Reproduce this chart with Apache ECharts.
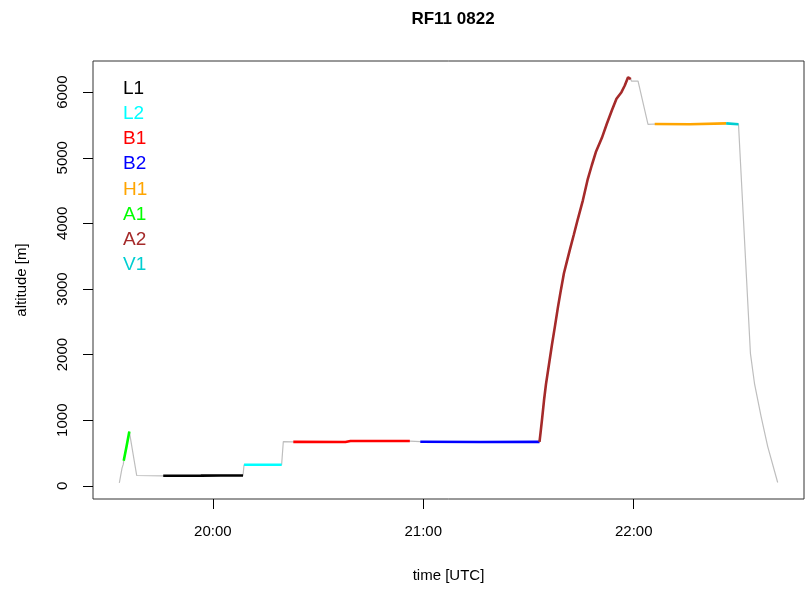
<!DOCTYPE html>
<html>
<head>
<meta charset="utf-8">
<title>RF11 0822</title>
<script src="https://cdn.jsdelivr.net/npm/echarts@6/dist/echarts.min.js"></script>
<style>
  html, body { margin: 0; padding: 0; background: #fff; }
  #chart { width: 812px; height: 589px; }
</style>
</head>
<body>
<div id="chart"></div>
<script>
// Flight track of RF11 (UTC time, altitude in metres)
const trackTime = [
  "19:33:21", "19:34:07", "19:34:29", "19:34:36", "19:35:24", "19:36:12",
  "19:38:18", "19:45:52", "19:56:35", "20:02:16", "20:08:37",
  "20:08:54", "20:19:37", "20:20:06",
  "20:22:57", "20:37:49", "20:39:15", "20:56:10",
  "20:59:09", "21:16:13", "21:33:08",
  "21:33:25", "21:33:50", "21:34:25", "21:34:59", "21:35:50", "21:36:41",
  "21:37:32", "21:38:23", "21:39:15", "21:40:06", "21:40:57", "21:41:48",
  "21:42:56", "21:44:05", "21:45:30", "21:46:55", "21:48:04", "21:49:12",
  "21:49:34", "21:50:54", "21:52:20", "21:53:45", "21:55:05", "21:56:30",
  "21:57:27", "21:58:23", "21:59:09",
  "21:59:21", "22:01:14", "22:04:04",
  "22:05:59", "22:15:56", "22:26:22", "22:29:52",
  "22:33:16", "22:34:25", "22:36:19", "22:38:12", "22:41:02"
];
const trackAlt = [
  46, 270, 330, 380, 600, 826,
  157, 152, 155, 158, 157,
  320, 320, 674,
  670, 668, 683, 682,
  672, 668, 670,
  800, 1000, 1300, 1550, 1850, 2150,
  2430, 2720, 2990, 3240, 3420, 3600,
  3830, 4070, 4352, 4680, 4890, 5087,
  5110, 5300, 5519, 5720, 5900, 6000,
  6102, 6228, 6200,
  6168, 6168, 5508,
  5515, 5512, 5525, 5510,
  2019, 1563, 1054, 598, 50
];

// Flight legs, in legend order, with their start and end times
const legNames = ["L1", "L2", "B1", "B2", "H1", "A1", "A2", "V1"];
const legStart = ["19:45:52", "20:08:54", "20:22:57", "20:59:09", "22:05:59", "19:34:36", "21:33:08", "22:26:22"];
const legEnd   = ["20:08:37", "20:19:37", "20:56:10", "21:33:08", "22:26:22", "19:36:12", "21:59:09", "22:29:52"];

// Axis tick positions
const xTickHours = [20, 21, 22];
const yTicks = [0, 1000, 2000, 3000, 4000, 5000, 6000];

// Leg colours
const legColor = {
  L1: "#000000", L2: "#00FFFF", B1: "#FF0000", B2: "#0000FF",
  H1: "#FFA500", A1: "#00FF00", A2: "#A52A2A", V1: "#00CED1"
};

function toHours(s) {
  const p = s.split(":").map(Number);
  return p[0] + p[1] / 60 + (p[2] || 0) / 3600;
}

const track = trackTime.map((t, i) => [toHours(t), trackAlt[i]]);

// Axis extent padded by 4% on each side
function padded(values) {
  const lo = Math.min(...values), hi = Math.max(...values);
  const d = (hi - lo) * 0.04;
  return [lo - d, hi + d];
}
const [xMin, xMax] = padded(track.map(p => p[0]));
const [yMin, yMax] = padded(track.map(p => p[1]));

const FONT = "Liberation Sans, Arial, Helvetica, sans-serif";

const series = [{
  name: "track",
  type: "line",
  data: track,
  showSymbol: false,
  symbol: "none",
  silent: true,
  lineStyle: { color: "#BEBEBE", width: 1.2 },
  z: 1
}];

legNames.forEach((name, i) => {
  const a = toHours(legStart[i]), b = toHours(legEnd[i]);
  series.push({
    name: name,
    type: "line",
    data: track.filter(p => p[0] >= a - 1e-9 && p[0] <= b + 1e-9),
    showSymbol: false,
    symbol: "none",
    color: legColor[name],
    lineStyle: { color: legColor[name], width: 2.6 },
    z: 2
  });
});

const chart = echarts.init(document.getElementById("chart"), null, { renderer: "canvas" });
chart.setOption({
  animation: false,
  backgroundColor: "#ffffff",
  textStyle: { fontFamily: FONT },
  title: {
    text: "RF11 0822",
    left: 448,
    top: 6,
    textAlign: "center",
    textStyle: { fontFamily: FONT, fontSize: 17, fontWeight: "bold", color: "#000" }
  },
  legend: {
    orient: "vertical",
    left: 118,
    top: 76,
    padding: 0,
    itemGap: 0,
    itemWidth: 0,
    itemHeight: 25,
    icon: "none",
    selectedMode: false,
    data: legNames.map(n => ({
      name: n,
      textStyle: { color: legColor[n] }
    })),
    textStyle: { fontFamily: FONT, fontSize: 19, lineHeight: 25.2, color: "#000" }
  },
  grid: {
    left: 93,
    right: 8,
    top: 61,
    bottom: 90,
    show: true,
    borderColor: "#333",
    borderWidth: 1,
    backgroundColor: "transparent"
  },
  xAxis: {
    type: "value",
    min: xMin,
    max: xMax,
    name: "time [UTC]",
    nameLocation: "middle",
    nameGap: 69,
    nameTextStyle: { fontFamily: FONT, fontSize: 15, color: "#000" },
    splitLine: { show: false },
    axisLine: { show: false, onZero: false },
    axisTick: {
      show: true, inside: false, length: 10,
      customValues: xTickHours,
      lineStyle: { color: "#000", width: 1 }
    },
    axisLabel: {
      show: true,
      margin: 25,
      customValues: xTickHours,
      formatter: v => Math.round(v) + ":00",
      fontFamily: FONT, fontSize: 15, color: "#000"
    }
  },
  yAxis: {
    type: "value",
    min: yMin,
    max: yMax,
    name: "altitude [m]",
    nameLocation: "middle",
    nameRotate: 90,
    nameGap: 64,
    nameTextStyle: { fontFamily: FONT, fontSize: 15, color: "#000" },
    splitLine: { show: false },
    axisLine: { show: false, onZero: false },
    axisTick: {
      show: true, inside: false, length: 10,
      customValues: yTicks,
      lineStyle: { color: "#000", width: 1 }
    },
    axisLabel: {
      show: true,
      rotate: 90,
      margin: 23,
      customValues: yTicks,
      formatter: v => String(Math.round(v)),
      fontFamily: FONT, fontSize: 15, color: "#000"
    }
  },
  series: series
});
</script>
</body>
</html>
